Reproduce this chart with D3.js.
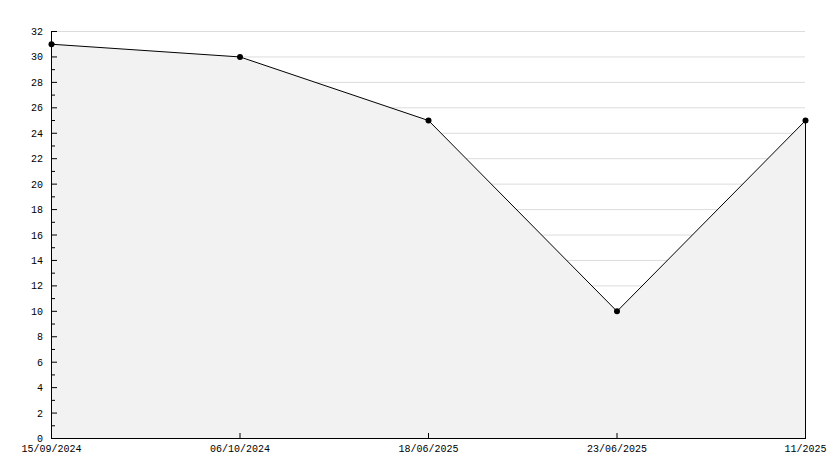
<!DOCTYPE html>
<head>
    <script src="https://d3js.org/d3.v7.min.js"></script>
</head>
<style>
body { margin: 0; background: #fff; }
text { font-family: "Liberation Mono", "DejaVu Sans Mono", monospace; font-size: 10px; fill: #000; }
</style>
<body>
<svg></svg>
<script>
    // data
    var dates = ["15/09/2024", "06/10/2024", "18/06/2025", "23/06/2025", "11/2025"];
    var values = [31, 30, 25, 10, 25];
    var yTicks = d3.range(0, 33, 2);

    var width = 834, height = 468;
    var mLeft = 51, mRight = 805, mTop = 31, mBottom = 438;

    var svg = d3.select("svg").attr("width", width).attr("height", height);

    var x = d3.scalePoint().domain(d3.range(dates.length)).range([mLeft, mRight]);
    var y = d3.scaleLinear().domain([0, 32]).range([mBottom, mTop]);

    // gridlines
    svg.append("g").selectAll("line")
        .data(yTicks.filter(function (d) { return d > 0; }))
        .enter().append("line")
        .attr("x1", mLeft).attr("x2", mRight)
        .attr("y1", function (d) { return y(d) + 0.5; })
        .attr("y2", function (d) { return y(d) + 0.5; })
        .style("stroke", "#dcdcdc");

    // area
    var area = d3.area()
        .x(function (d, i) { return x(i) + 0.5; })
        .y0(y(0))
        .y1(function (d) { return y(d) + 0.5; });
    svg.append("path")
        .datum(values)
        .attr("d", area)
        .style("fill", "#f2f2f2")
        .style("stroke", "none");

    var line = d3.line()
        .x(function (d, i) { return x(i) + 0.5; })
        .y(function (d) { return y(d) + 0.5; });
    svg.append("path")
        .datum(values)
        .attr("d", line)
        .style("fill", "none")
        .style("stroke", "#000")
        .style("stroke-width", 1);

    // right edge of the area
    svg.append("line")
        .attr("x1", x(values.length - 1) + 0.5).attr("x2", x(values.length - 1) + 0.5)
        .attr("y1", y(values[values.length - 1])).attr("y2", mBottom)
        .style("stroke", "#000");

    // y axis
    var yAxis = svg.append("g");
    yAxis.append("line")
        .attr("x1", mLeft + 0.5).attr("x2", mLeft + 0.5)
        .attr("y1", mTop).attr("y2", mBottom + 0.5)
        .style("stroke", "#000");
    yAxis.selectAll(".major").data(yTicks).enter().append("line")
        .attr("x1", mLeft).attr("x2", mLeft + 6)
        .attr("y1", function (d) { return y(d) + 0.5; })
        .attr("y2", function (d) { return y(d) + 0.5; })
        .style("stroke", "#000");
    yAxis.selectAll(".minor").data(d3.range(1, 32, 2)).enter().append("line")
        .attr("x1", mLeft).attr("x2", mLeft + 4)
        .attr("y1", function (d) { return y(d) + 0.5; })
        .attr("y2", function (d) { return y(d) + 0.5; })
        .style("stroke", "#000");
    yAxis.selectAll("text").data(yTicks).enter().append("text")
        .attr("x", mLeft - 8)
        .attr("y", function (d) { return y(d) + 4; })
        .attr("text-anchor", "end")
        .text(function (d) { return d; });

    // x axis
    var xAxis = svg.append("g");
    xAxis.append("line")
        .attr("x1", mLeft).attr("x2", mRight + 1)
        .attr("y1", mBottom + 0.5).attr("y2", mBottom + 0.5)
        .style("stroke", "#000");
    xAxis.selectAll(".tick").data(dates).enter().append("line")
        .attr("x1", function (d, i) { return x(i) + 0.5; })
        .attr("x2", function (d, i) { return x(i) + 0.5; })
        .attr("y1", mBottom - 5).attr("y2", mBottom)
        .style("stroke", "#000");
    xAxis.selectAll("text").data(dates).enter().append("text")
        .attr("x", function (d, i) { return x(i) + 0.5; })
        .attr("y", mBottom + 14)
        .attr("text-anchor", "middle")
        .text(function (d) { return d; });

    // markers
    svg.selectAll(".pt").data(values).enter().append("circle")
        .attr("cx", function (d, i) { return x(i) + 0.5; })
        .attr("cy", function (d) { return y(d) + 0.5; })
        .attr("r", 3)
        .style("fill", "#000");
</script>
</body>
